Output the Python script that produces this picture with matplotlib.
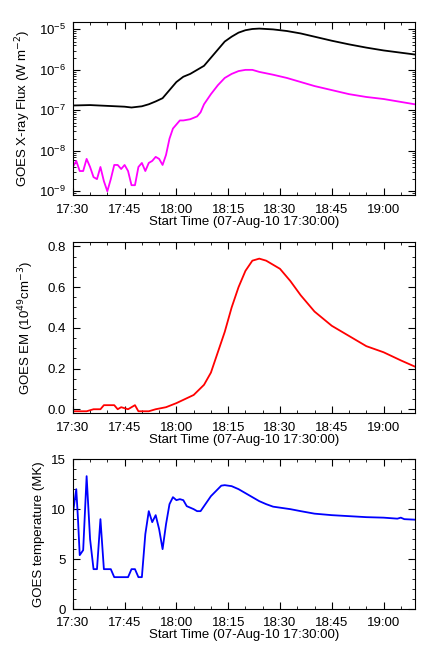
import numpy as np
import matplotlib
matplotlib.use('Agg')
import matplotlib.pyplot as plt
from matplotlib.ticker import MultipleLocator, LogLocator, NullFormatter

plt.rcParams['font.family'] = ['Liberation Sans', 'DejaVu Sans']
plt.rcParams['font.size'] = 9

# minutes after 17:30
t_long = [0, 5, 10, 15, 17, 20, 22, 24, 26, 28, 30, 32, 34, 36, 38, 40, 42, 44, 46, 48, 50,
          52, 54, 58, 62, 66, 70, 75, 80, 85, 90, 99]
log_long = [-6.88, -6.87, -6.89, -6.91, -6.93, -6.9, -6.85, -6.78, -6.7, -6.5, -6.3, -6.17,
            -6.1, -6.0, -5.9, -5.7, -5.5, -5.3, -5.18, -5.08, -5.02, -4.99, -4.98, -5.0,
            -5.04, -5.1, -5.18, -5.28, -5.37, -5.45, -5.52, -5.62]
t_short = [0, 1, 2, 3, 4, 5, 6, 7, 8, 9, 10, 11, 12, 13, 14, 15, 16, 17, 18, 19, 20, 21, 22,
           23, 24, 25, 26, 27, 28, 29, 30, 31, 32, 34, 36, 37, 38, 40, 42, 44, 46, 48, 50,
           52, 54, 58, 62, 66, 70, 75, 80, 85, 90, 99]
log_short = [-8.4, -8.25, -8.5, -8.5, -8.2, -8.4, -8.65, -8.7, -8.4, -8.75, -9.0, -8.7, -8.35,
             -8.35, -8.45, -8.35, -8.5, -8.85, -8.85, -8.4, -8.3, -8.5, -8.3, -8.25, -8.15,
             -8.2, -8.35, -8.1, -7.7, -7.45, -7.35, -7.25, -7.25, -7.22, -7.15, -7.05, -6.85,
             -6.6, -6.38, -6.2, -6.1, -6.03, -6.0, -6.0, -6.05, -6.12, -6.2, -6.3, -6.4,
             -6.5, -6.6, -6.67, -6.72, -6.85]

t_em = [0, 4, 6, 8, 9, 12, 13, 14, 16, 18, 19, 20, 22, 24, 27, 30, 35, 38, 40, 42, 44, 46,
        48, 50, 52, 54, 56, 58, 60, 63, 66, 70, 75, 80, 85, 90, 95, 99]
em = [-0.01, -0.01, 0.0, 0.0, 0.02, 0.02, 0.0, 0.01, 0.0, 0.02, -0.01, -0.01, -0.01, 0.0,
      0.01, 0.03, 0.07, 0.12, 0.18, 0.28, 0.38, 0.5, 0.6, 0.68, 0.73, 0.74, 0.73, 0.71,
      0.69, 0.63, 0.56, 0.48, 0.41, 0.36, 0.31, 0.28, 0.24, 0.21]

t_temp = [0, 1, 1.5, 2, 3, 4, 5, 6, 7, 8, 9, 11, 12, 15, 16, 17, 18, 19, 20, 21, 22, 23, 24,
          25, 26, 27, 28, 29, 30, 31, 32, 33, 35, 36, 37, 38, 40, 42, 43, 44, 46, 48, 50,
          52, 54, 56, 58, 60, 63, 66, 70, 75, 80, 85, 90, 94, 95, 96, 99]
temp = [9.5, 12, 9, 5.4, 5.9, 13.3, 7, 4, 4, 9, 4, 4, 3.2, 3.2, 3.2, 4, 4, 3.2, 3.2, 7.5,
        9.8, 8.7, 9.4, 8, 6, 8.5, 10.5, 11.2, 10.9, 11, 10.9, 10.3, 10, 9.8, 9.8, 10.3,
        11.3, 12, 12.35, 12.4, 12.3, 12, 11.6, 11.2, 10.8, 10.5, 10.25, 10.15, 10.0, 9.8,
        9.55, 9.4, 9.3, 9.2, 9.15, 9.05, 9.15, 9.0, 8.95]

xticks = [0, 15, 30, 45, 60, 75, 90]
xlabels = ['17:30', '17:45', '18:00', '18:15', '18:30', '18:45', '19:00']
xlabel = 'Start Time (07-Aug-10 17:30:00)'

fig = plt.figure(figsize=(4.36, 6.55), dpi=100)
ax1 = fig.add_axes([0.167, 0.702, 0.784, 0.264])
ax2 = fig.add_axes([0.167, 0.369, 0.784, 0.261])
ax3 = fig.add_axes([0.167, 0.070, 0.784, 0.229])

ax1.plot(t_long, 10 ** np.array(log_long), color='k', lw=1.3)
ax1.plot(t_short, 10 ** np.array(log_short), color='#ff00ff', lw=1.3)
ax1.set_yscale('log')
ax1.set_ylim(8e-10, 1.5e-5)
ax1.yaxis.set_major_locator(LogLocator(base=10, numticks=10))
ax1.yaxis.set_minor_locator(LogLocator(base=10, subs=np.arange(2, 10), numticks=10))
ax1.yaxis.set_minor_formatter(NullFormatter())
ax1.set_ylabel('GOES X-ray Flux (W m$^{-2}$)')

ax2.plot(t_em, em, color='r', lw=1.3)
ax2.set_ylim(-0.02, 0.82)
ax2.yaxis.set_major_locator(MultipleLocator(0.2))
ax2.yaxis.set_minor_locator(MultipleLocator(0.05))
ax2.set_ylabel('GOES EM (10$^{49}$cm$^{-3}$)', labelpad=8)

ax3.plot(t_temp, temp, color='b', lw=1.3)
ax3.set_ylim(0, 15)
ax3.yaxis.set_major_locator(MultipleLocator(5))
ax3.yaxis.set_minor_locator(MultipleLocator(1))
ax3.set_ylabel('GOES temperature (MK)')

for ax in (ax1, ax2, ax3):
    ax.set_xlim(0, 99)
    ax.set_xticks(xticks)
    ax.set_xticklabels(xlabels)
    ax.xaxis.set_minor_locator(MultipleLocator(5))
    ax.tick_params(which='both', direction='in', top=True, right=True, labelsize=9.5)
    ax.tick_params(axis='x', pad=6)
    ax.tick_params(axis='y', pad=5)
    ax.tick_params(which='major', length=5)
    ax.tick_params(which='minor', length=2.5)
    ax.set_xlabel(xlabel, labelpad=0, fontsize=9.5)
    ax.yaxis.label.set_size(9.5)
    for s in ax.spines.values():
        s.set_linewidth(0.8)

fig.savefig('out.png', dpi=100)
